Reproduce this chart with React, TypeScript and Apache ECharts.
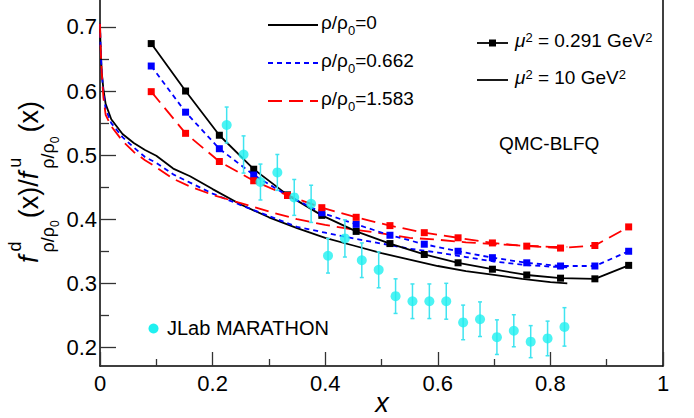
import React, { useEffect, useRef } from "react";
import * as echarts from "echarts";

// ---------- data ----------
// QMC-BLFQ at mu^2 = 0.291 GeV^2 (markers)
const modelX = [0.091, 0.152, 0.212, 0.273, 0.333, 0.394, 0.455, 0.515, 0.576, 0.636, 0.697, 0.758, 0.818, 0.879, 0.939];
const rho0Init = [0.674, 0.600, 0.531, 0.478, 0.438, 0.406, 0.381, 0.362, 0.345, 0.332, 0.322, 0.313, 0.308, 0.307, 0.328];
const rho0662Init = [0.639, 0.567, 0.510, 0.469, 0.437, 0.410, 0.392, 0.375, 0.361, 0.350, 0.340, 0.332, 0.327, 0.327, 0.350];
const rho1583Init = [0.599, 0.534, 0.490, 0.460, 0.437, 0.418, 0.403, 0.390, 0.379, 0.371, 0.363, 0.358, 0.355, 0.359, 0.388];

// evolved to mu^2 = 10 GeV^2 (lines)
const evolvedX = [0, 0.001, 0.003, 0.006, 0.01, 0.02, 0.04, 0.06, 0.08, 0.1, 0.13, 0.16, 0.2, 0.25, 0.3, 0.35, 0.4, 0.45, 0.5, 0.55, 0.6, 0.65, 0.7, 0.75, 0.8, 0.83];
const rho0Evol = [0.705, 0.67, 0.63, 0.603, 0.58, 0.556, 0.533, 0.519, 0.508, 0.499, 0.479, 0.467, 0.447, 0.423, 0.403, 0.386, 0.371, 0.359, 0.347, 0.337, 0.327, 0.319, 0.313, 0.307, 0.302, 0.300];
const rho0662Evol = [0.705, 0.67, 0.63, 0.598, 0.572, 0.55, 0.528, 0.512, 0.497, 0.488, 0.470, 0.457, 0.440, 0.422, 0.405, 0.388, 0.379, 0.370, 0.362, 0.354, 0.348, 0.341, 0.334, 0.329, 0.326, 0.325];
const rho1583Evol = [0.705, 0.67, 0.63, 0.59, 0.563, 0.545, 0.522, 0.505, 0.492, 0.481, 0.463, 0.451, 0.438, 0.425, 0.412, 0.400, 0.391, 0.384, 0.378, 0.371, 0.368, 0.364, 0.361, 0.359, 0.357, 0.357];

// JLab MARATHON
const dataX = [0.225, 0.255, 0.285, 0.315, 0.345, 0.375, 0.405, 0.435, 0.465, 0.495, 0.525, 0.555, 0.585, 0.615, 0.645, 0.675, 0.705, 0.735, 0.765, 0.795, 0.825];
const dataY = [0.547, 0.501, 0.458, 0.473, 0.434, 0.424, 0.343, 0.370, 0.336, 0.321, 0.280, 0.272, 0.272, 0.272, 0.239, 0.244, 0.216, 0.226, 0.209, 0.214, 0.232];
const dataErr = [0.028, 0.029, 0.028, 0.028, 0.028, 0.029, 0.027, 0.029, 0.027, 0.028, 0.027, 0.027, 0.027, 0.028, 0.027, 0.027, 0.027, 0.025, 0.025, 0.027, 0.030];

// axis ticks
const yMajorTicks = [0.2, 0.3, 0.4, 0.5, 0.6, 0.7];
const yMinorTicks = [0.25, 0.35, 0.45, 0.55, 0.65];

const FONT = "'Liberation Sans', Arial, Helvetica, sans-serif";
const BLACK = "#000000";
const BLUE = "#0000ff";
const RED = "#ff0000";
const CYAN = "#1ff0f0";
const CYAN_BAR = "#40e4f0";

function measure(text: string, size: number, italic = false): number {
  const c = document.createElement("canvas").getContext("2d");
  if (!c) return text.length * size * 0.55;
  c.font = `${italic ? "italic " : ""}${size}px ${FONT}`;
  return c.measureText(text).width;
}

function buildYTitle() {
  const big = 27;
  const sub = 18;
  const sub2 = 12;
  const children: any[] = [];
  let x = 0;
  const add = (text: string, size: number, lx: number, ly: number, italic = false) => {
    children.push({
      type: "text",
      x: lx,
      y: ly,
      style: {
        text,
        fontSize: size,
        fontFamily: FONT,
        fontStyle: italic ? "italic" : "normal",
        fill: "#000",
        align: "left",
        verticalAlign: "middle",
      },
    });
  };
  const stack = (supText: string) => {
    add(supText, sub, x + 1, -14);
    add("ρ/ρ", sub, x, 19);
    const w = measure("ρ/ρ", sub);
    add("0", sub2, x + w, 26);
    const ws = measure("0", sub2);
    x += Math.max(w + ws, measure(supText, sub)) + 2;
  };
  add("f", big, x, 0, true);
  x += measure("f", big, true) + 3;
  stack("d");
  add("(x)/", big, x, 0);
  x += measure("(x)/", big);
  add("f", big, x, 0, true);
  x += measure("f", big, true) + 3;
  stack("u");
  add("(x)", big, x + 2, 0);
  x += measure("(x)", big) + 2;
  children.forEach((c) => (c.x -= x / 2));
  return {
    type: "group",
    x: 29,
    y: 182,
    rotation: Math.PI / 2,
    z: 100,
    children,
  };
}

export default function App() {
  const ref = useRef<HTMLDivElement>(null);

  useEffect(() => {
    if (!ref.current) return;
    const chart = echarts.init(ref.current, undefined, { renderer: "svg" });

    const lineSeries = (name: string, xs: number[], ys: number[], color: string, dash: any, markers: boolean) => ({
      name,
      type: "line",
      data: xs.map((x, i) => [x, ys[i]]),
      symbol: markers ? "rect" : "none",
      symbolSize: 7,
      showSymbol: markers,
      clip: true,
      itemStyle: { color },
      lineStyle: { color, width: 1.8, type: dash },
      z: 3,
    });

    const legendRich = {
      m: { fontSize: 19, fontFamily: FONT, lineHeight: 24, verticalAlign: "top" },
      s: { fontSize: 13, fontFamily: FONT, lineHeight: 8, verticalAlign: "bottom" },
      i: { fontSize: 19, fontFamily: FONT, fontStyle: "italic", lineHeight: 24, verticalAlign: "top" },
      p: { fontSize: 13, fontFamily: FONT, lineHeight: 15, verticalAlign: "top" },
      q: { fontSize: 13, fontFamily: FONT, lineHeight: 8, verticalAlign: "top" },
    };

    const legendText = (text: string, x: number, y: number) => ({
      type: "text",
      x,
      y,
      z: 100,
      style: { text, rich: legendRich, fill: "#000", align: "left", verticalAlign: "middle" },
    });
    const legendLine = (x1: number, x2: number, y: number, color: string, dash: any) => ({
      type: "line",
      z: 100,
      shape: { x1, y1: y, x2, y2: y },
      style: { stroke: color, lineWidth: 1.8, lineDash: dash },
    });

    chart.setOption({
      animation: false,
      backgroundColor: "#ffffff",
      grid: { left: 100, right: 31, top: 0, bottom: 52, containLabel: false },
      xAxis: {
        type: "value",
        min: 0,
        max: 1,
        interval: 0.2,
        axisLine: { show: true, lineStyle: { color: "#000", width: 1.5 } },
        axisTick: { show: true, inside: true, length: 14, lineStyle: { color: "#333", width: 1.3 } },
        minorTick: { show: true, splitNumber: 2, length: 7, lineStyle: { color: "#333", width: 1.3 } },
        axisLabel: {
          fontSize: 22,
          fontFamily: FONT,
          color: "#000",
          margin: 6,
          formatter: (v: number) => (v === 0 || v === 1 ? String(v) : v.toFixed(1)),
        },
        splitLine: { show: false },
        minorSplitLine: { show: false },
      },
      yAxis: [
        {
          type: "value",
          min: 0.171,
          max: 0.742,
          position: "left",
          axisLine: { show: true, onZero: false, lineStyle: { color: "#000", width: 1.5 } },
          axisTick: { show: true, inside: true, length: 16, customValues: yMajorTicks, lineStyle: { color: "#333", width: 1.3 } },
          axisLabel: {
            customValues: yMajorTicks,
            fontSize: 22,
            fontFamily: FONT,
            color: "#000",
            margin: 3,
            formatter: (v: number) => v.toFixed(1),
          },
          splitLine: { show: false },
        },
        {
          type: "value",
          min: 0.171,
          max: 0.742,
          position: "left",
          axisLine: { show: false },
          axisTick: { show: true, inside: true, length: 9, customValues: yMinorTicks, lineStyle: { color: "#333", width: 1.3 } },
          axisLabel: { show: false },
          splitLine: { show: false },
        },
        {
          type: "value",
          min: 0.171,
          max: 0.742,
          position: "right",
          axisLine: { show: true, onZero: false, lineStyle: { color: "#000", width: 1.5 } },
          axisTick: { show: false },
          axisLabel: { show: false },
          splitLine: { show: false },
        },
      ],
      series: [
        lineSeries("ρ/ρ0=0 (10)", evolvedX, rho0Evol, BLACK, "solid", false),
        lineSeries("ρ/ρ0=0.662 (10)", evolvedX, rho0662Evol, BLUE, [5, 4], false),
        lineSeries("ρ/ρ0=1.583 (10)", evolvedX, rho1583Evol, RED, [14, 7], false),
        lineSeries("ρ/ρ0=0 (0.291)", modelX, rho0Init, BLACK, "solid", true),
        lineSeries("ρ/ρ0=0.662 (0.291)", modelX, rho0662Init, BLUE, [5, 4], true),
        lineSeries("ρ/ρ0=1.583 (0.291)", modelX, rho1583Init, RED, [14, 7], true),
        {
          name: "JLab MARATHON errors",
          type: "custom",
          z: 4,
          data: dataX.map((x, i) => [x, dataY[i], dataErr[i]]),
          encode: { x: 0, y: 1 },
          renderItem: (_params: any, api: any) => {
            const x = api.value(0);
            const y = api.value(1);
            const e = api.value(2);
            const top = api.coord([x, y + e]);
            const bot = api.coord([x, y - e]);
            const st = { stroke: CYAN_BAR, lineWidth: 1.5 };
            return {
              type: "group",
              children: [
                { type: "line", shape: { x1: top[0], y1: top[1], x2: bot[0], y2: bot[1] }, style: st },
                { type: "line", shape: { x1: top[0] - 2, y1: top[1], x2: top[0] + 2, y2: top[1] }, style: st },
                { type: "line", shape: { x1: bot[0] - 2, y1: bot[1], x2: bot[0] + 2, y2: bot[1] }, style: st },
              ],
            };
          },
        },
        {
          name: "JLab MARATHON",
          type: "scatter",
          z: 5,
          symbol: "circle",
          symbolSize: 10,
          itemStyle: { color: CYAN },
          data: dataX.map((x, i) => [x, dataY[i]]),
        },
      ],
      graphic: [
        buildYTitle(),
        {
          type: "text",
          x: 382,
          y: 403,
          z: 100,
          style: { text: "x", fontSize: 27, fontStyle: "italic", fontFamily: FONT, fill: "#000", align: "center", verticalAlign: "middle" },
        },
        legendLine(268, 318, 25, BLACK, null),
        legendText("{m|ρ/ρ}{s|0}{m|=0}", 321, 25),
        legendLine(268, 318, 63, BLUE, [5, 4]),
        legendText("{m|ρ/ρ}{s|0}{m|=0.662}", 321, 63),
        legendLine(268, 318, 101, RED, [14, 7]),
        legendText("{m|ρ/ρ}{s|0}{m|=1.583}", 321, 101),
        legendLine(477, 508, 43, BLACK, null),
        { type: "rect", z: 101, shape: { x: 489, y: 39.5, width: 7, height: 7 }, style: { fill: BLACK } },
        legendText("{i|μ}{p|2}{m| = 0.291 GeV}{q|2}", 515, 43),
        legendLine(477, 508, 80, BLACK, null),
        legendText("{i|μ}{p|2}{m| = 10 GeV}{q|2}", 515, 80),
        {
          type: "text",
          x: 499,
          y: 143,
          z: 100,
          style: { text: "QMC-BLFQ", fontSize: 19, fontFamily: FONT, fill: "#000", align: "left", verticalAlign: "middle" },
        },
        { type: "circle", z: 100, shape: { cx: 153.5, cy: 328.5, r: 5 }, style: { fill: CYAN } },
        {
          type: "text",
          x: 167,
          y: 328,
          z: 100,
          style: { text: "JLab MARATHON", fontSize: 20, fontFamily: FONT, fill: "#000", align: "left", verticalAlign: "middle" },
        },
      ],
    });

    return () => chart.dispose();
  }, []);

  return <div ref={ref} style={{ width: 694, height: 418, position: "absolute", left: 0, top: 0 }} />;
}
